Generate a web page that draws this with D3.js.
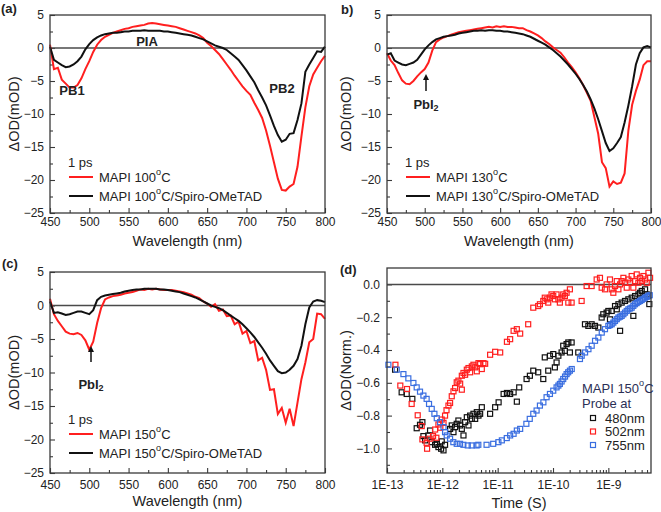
<!DOCTYPE html>
<html><head><meta charset="utf-8">
<script src="https://cdn.jsdelivr.net/npm/d3@7"></script>
<style>body{margin:0;background:#fff} text{font-family:"Liberation Sans",Arial,sans-serif;fill:#222}</style>
</head><body><svg id="c" width="661" height="512"></svg>
<script>
// ---------- data ----------
const wavelengths = d3.range(450, 801, 5);
const a_red = [0.5,-3.2,-3.0,-4.8,-5.4,-6.0,-6.0,-5.6,-4.6,-3.2,
  -2.0,-0.6,0.5,1.2,1.7,2.0,2.3,2.5,2.7,2.9,
  3.0,3.2,3.3,3.4,3.5,3.7,3.8,3.7,3.6,3.5,
  3.4,3.3,3.2,3.0,2.8,2.6,2.4,2.2,1.9,1.5,
  0.8,0.3,-0.3,-0.9,-1.7,-2.5,-3.3,-4.2,-5.0,-5.8,
  -6.5,-7.1,-8.3,-9.4,-10.6,-12.5,-14.8,-17.3,-19.8,-21.5,
  -21.6,-21.0,-20.6,-18.0,-13.4,-9.0,-5.8,-4.0,-3.0,-2.0,
  -1.2];
const a_black = [0.2,-1.8,-2.2,-2.6,-2.9,-2.8,-2.5,-2.0,-1.3,-0.2,
  0.6,1.2,1.6,1.9,2.1,2.2,2.3,2.3,2.4,2.5,
  2.5,2.6,2.6,2.6,2.7,2.6,2.6,2.6,2.6,2.5,
  2.5,2.4,2.3,2.2,2.1,2.0,1.9,1.7,1.5,1.3,
  1.0,0.7,0.4,0.2,0.0,-0.3,-0.8,-1.3,-1.8,-2.6,
  -3.4,-4.3,-5.2,-6.4,-7.5,-8.7,-10.2,-11.8,-13.2,-14.2,
  -13.9,-13.0,-12.9,-10.9,-8.4,-3.6,-2.5,-1.5,-0.5,-0.6,
  0.2];
const b_red = [-0.8,-1.9,-2.6,-3.8,-4.9,-5.4,-5.5,-5.0,-4.3,-3.7,
  -3.2,-2.2,-0.4,0.9,1.3,1.6,1.8,2.0,2.2,2.4,
  2.5,2.6,2.7,2.8,2.9,3.0,3.1,3.2,3.1,3.3,
  3.2,3.3,3.2,3.2,3.1,3.0,3.0,2.7,2.5,2.2,
  1.9,1.5,1.0,0.6,0.1,-0.3,-0.7,-1.4,-2.2,-2.9,
  -3.7,-4.6,-5.6,-6.8,-8.0,-10.5,-13.0,-17.3,-18.2,-21.0,
  -20.2,-20.6,-20.4,-19.0,-12.5,-8.6,-6.5,-4.8,-2.6,-2.0,
  -2.0];
const b_black = [-1.0,-0.8,-1.9,-2.2,-2.5,-2.6,-2.4,-2.2,-1.8,-1.0,
  -0.2,0.4,0.9,1.3,1.5,1.7,1.8,1.9,2.0,2.2,
  2.3,2.4,2.5,2.6,2.6,2.7,2.6,2.7,2.7,2.6,
  2.6,2.5,2.5,2.4,2.3,2.2,2.1,1.9,1.7,1.4,
  1.1,0.8,0.5,0.1,-0.3,-0.8,-1.3,-1.9,-2.5,-3.2,
  -3.9,-4.7,-5.6,-6.6,-7.8,-9.2,-10.8,-12.6,-14.4,-15.6,
  -15.2,-14.4,-13.5,-11.3,-8.7,-5.8,-2.5,-0.8,0.1,0.3,
  0.1];
const c_red = [1.0,-1.3,-2.3,-3.1,-3.9,-4.2,-4.3,-4.1,-4.4,-5.2,
  -6.6,-5.4,-2.6,-0.4,0.9,1.2,1.4,1.5,1.6,1.8,
  1.9,2.0,2.2,2.4,2.3,2.5,2.4,2.5,2.4,2.3,
  2.3,2.3,2.2,2.1,2.0,1.8,1.6,1.3,1.1,0.6,
  0.3,-0.2,0.2,-0.8,-0.6,-1.6,-1.5,-2.8,-2.4,-4.2,
  -3.8,-5.6,-5.3,-8.2,-7.8,-9.6,-12.6,-12.5,-16.2,-15.3,
  -17.5,-15.4,-18.0,-14.5,-11.0,-8.5,-5.5,-5.0,-1.2,-1.3,
  -2.0];
const c_black = [0.6,-1.1,-1.0,-1.2,-1.4,-1.3,-1.1,-0.9,-0.9,-1.1,
  -1.3,-0.7,0.8,1.3,1.5,1.6,1.7,1.8,1.9,2.1,
  2.2,2.3,2.4,2.4,2.5,2.5,2.5,2.5,2.4,2.4,
  2.3,2.2,2.1,2.0,1.8,1.6,1.4,1.2,0.9,0.6,
  0.3,0.0,-0.2,-0.4,-0.7,-1.1,-1.5,-1.9,-2.3,-2.8,
  -3.4,-4.0,-4.7,-5.5,-6.3,-7.2,-8.2,-9.0,-9.8,-10.1,
  -10.0,-9.6,-9.0,-8.0,-6.0,-2.8,-0.3,0.6,0.8,0.7,
  0.5];
const wlTicks = [450,500,550,600,650,700,750,800];
const odTicks = [-25,-20,-15,-10,-5,0,5];

// (d) kinetics: [time (s), normalized dOD]
const k480 = [[1.40e-13,-0.520],[1.84e-13,-0.658],[2.27e-13,-0.668],[2.87e-13,-0.698],[3.44e-13,-0.877],[3.95e-13,-0.856],[4.36e-13,-0.840],[4.55e-13,-0.925],[4.88e-13,-0.951],[5.6e-13,-0.921],[6.0e-13,-0.891],[6.43e-13,-0.962],[7.4e-13,-0.978],[7.93e-13,-0.972],[8.5e-13,-0.992],[9.5e-13,-1.002],[1.05e-12,-1.012],[9.75e-13,-0.957],[1.12e-12,-0.978],[1.38e-12,-0.881],[1.48e-12,-0.860],[1.59e-12,-0.901],[1.70e-12,-0.870],[1.82e-12,-0.850],[1.95e-12,-0.830],[2.1e-12,-0.860],[2.25e-12,-0.881],[2.41e-12,-0.921],[2.58e-12,-0.840],[2.77e-12,-0.810],[2.97e-12,-0.860],[3.18e-12,-0.800],[3.41e-12,-0.820],[3.65e-12,-0.789],[3.92e-12,-0.820],[4.2e-12,-0.779],[4.5e-12,-0.800],[4.82e-12,-0.789],[5.17e-12,-0.749],[7.3e-12,-0.789],[9.0e-12,-0.749],[1.04e-11,-0.719],[1.28e-11,-0.668],[1.47e-11,-0.662],[1.68e-11,-0.668],[1.94e-11,-0.658],[2.22e-11,-0.715],[2.45e-11,-0.628],[3.33e-11,-0.577],[3.82e-11,-0.557],[4.4e-11,-0.526],[5.4e-11,-0.536],[6.67e-11,-0.577],[7.1e-11,-0.445],[8.2e-11,-0.526],[8.8e-11,-0.435],[1.01e-10,-0.425],[1.08e-10,-0.506],[1.16e-10,-0.476],[1.25e-10,-0.435],[1.43e-10,-0.415],[1.53e-10,-0.374],[1.64e-10,-0.405],[1.76e-10,-0.364],[1.89e-10,-0.354],[2.02e-10,-0.415],[2.17e-10,-0.354],[2.86e-10,-0.415],[3.78e-10,-0.243],[4.35e-10,-0.253],[4.99e-10,-0.243],[5.74e-10,-0.253],[6.6e-10,-0.263],[7.57e-10,-0.202],[8.1e-10,-0.182],[9.3e-10,-0.172],[1.0e-9,-0.162],[1.07e-9,-0.213],[1.15e-9,-0.162],[1.32e-9,-0.132],[1.42e-9,-0.152],[1.52e-9,-0.121],[1.63e-9,-0.283],[1.74e-9,-0.111],[2.0e-9,-0.101],[2.3e-9,-0.091],[2.64e-9,-0.081],[2.83e-9,-0.192],[3.04e-9,-0.071],[3.49e-9,-0.061],[3.74e-9,-0.051],[4.01e-9,-0.040],[4.61e-9,-0.030],[4.94e-9,-0.061],[5.5e-9,-0.120]];
const k502 = [[1.42e-13,-0.490],[1.74e-13,-0.617],[2.3e-13,-0.638],[2.79e-13,-0.729],[3.59e-13,-0.798],[4.24e-13,-0.864],[4.36e-13,-0.945],[5.3e-13,-1.002],[5.2e-13,-0.966],[5.9e-13,-0.941],[6.8e-13,-0.925],[7.4e-13,-0.885],[7.8e-13,-0.935],[8.5e-13,-0.854],[9.2e-13,-0.874],[9.75e-13,-0.824],[1.05e-12,-0.844],[1.12e-12,-0.800],[1.19e-12,-0.767],[1.29e-12,-0.739],[1.38e-12,-0.723],[1.48e-12,-0.682],[1.59e-12,-0.652],[1.7e-12,-0.632],[1.82e-12,-0.597],[1.95e-12,-0.587],[2.1e-12,-0.605],[2.25e-12,-0.642],[2.25e-12,-0.557],[2.41e-12,-0.540],[2.58e-12,-0.551],[2.77e-12,-0.520],[2.97e-12,-0.510],[3.18e-12,-0.536],[3.41e-12,-0.500],[3.65e-12,-0.490],[3.92e-12,-0.506],[4.2e-12,-0.530],[4.5e-12,-0.480],[4.82e-12,-0.486],[5.17e-12,-0.516],[5.54e-12,-0.480],[5.94e-12,-0.484],[7.3e-12,-0.429],[9.0e-12,-0.411],[1.11e-11,-0.415],[1.47e-11,-0.350],[1.68e-11,-0.334],[1.94e-11,-0.283],[2.22e-11,-0.273],[2.55e-11,-0.300],[3.56e-11,-0.243],[4.4e-11,-0.142],[5.4e-11,-0.132],[5.8e-11,-0.121],[6.67e-11,-0.101],[7.1e-11,-0.081],[7.7e-11,-0.091],[8.2e-11,-0.111],[8.8e-11,-0.081],[9.4e-11,-0.061],[1.01e-10,-0.071],[1.08e-10,-0.091],[1.16e-10,-0.061],[1.25e-10,-0.091],[1.33e-10,-0.111],[1.43e-10,-0.081],[1.53e-10,-0.061],[1.64e-10,-0.071],[1.76e-10,-0.051],[1.89e-10,-0.111],[2.02e-10,-0.030],[2.17e-10,-0.111],[3.29e-10,-0.101],[4.05e-10,-0.010],[4.99e-10,-0.010],[6.15e-10,0.030],[7.06e-10,0.040],[7.57e-10,-0.020],[8.7e-10,-0.030],[9.3e-10,0.000],[1.07e-9,0.030],[1.15e-9,-0.030],[1.23e-9,-0.051],[1.32e-9,-0.010],[1.42e-9,0.020],[1.52e-9,-0.030],[1.63e-9,0.000],[1.74e-9,0.020],[1.87e-9,0.040],[2.0e-9,0.010],[2.15e-9,-0.020],[2.3e-9,0.030],[2.47e-9,0.010],[2.64e-9,0.051],[2.83e-9,-0.020],[3.04e-9,0.020],[3.26e-9,0.061],[3.49e-9,0.010],[3.74e-9,0.040],[4.01e-9,0.020],[4.3e-9,0.051],[4.61e-9,0.030],[4.94e-9,0.010],[5.3e-9,0.071],[5.68e-9,0.040]];
const k755 = [[1.06e-13,-0.490],[1.5e-13,-0.520],[1.98e-13,-0.547],[2.43e-13,-0.573],[3.0e-13,-0.601],[3.44e-13,-0.628],[3.95e-13,-0.654],[4.55e-13,-0.678],[5.2e-13,-0.698],[5.75e-13,-0.729],[6.43e-13,-0.759],[7.19e-13,-0.789],[7.93e-13,-0.816],[9.1e-13,-0.840],[1.05e-12,-0.870],[1.12e-12,-0.901],[1.2e-12,-0.921],[1.38e-12,-0.941],[1.58e-12,-0.962],[1.82e-12,-0.972],[2.09e-12,-0.972],[2.4e-12,-0.978],[2.88e-12,-0.982],[3.39e-12,-0.982],[4.17e-12,-0.982],[4.47e-12,-0.978],[6.3e-12,-0.978],[8.3e-12,-0.972],[1.03e-11,-0.962],[1.19e-11,-0.951],[1.46e-11,-0.937],[1.68e-11,-0.921],[1.94e-11,-0.911],[2.22e-11,-0.891],[2.55e-11,-0.881],[3.3e-11,-0.850],[3.8e-11,-0.820],[4.4e-11,-0.789],[5.05e-11,-0.769],[5.8e-11,-0.739],[6.7e-11,-0.719],[7.65e-11,-0.688],[8.8e-11,-0.668],[1.01e-10,-0.648],[1.16e-10,-0.628],[1.25e-10,-0.617],[1.33e-10,-0.607],[1.43e-10,-0.592],[1.53e-10,-0.577],[1.65e-10,-0.562],[1.76e-10,-0.547],[1.88e-10,-0.536],[2.02e-10,-0.526],[2.18e-10,-0.516],[3.07e-10,-0.455],[3.3e-10,-0.435],[3.8e-10,-0.415],[4.37e-10,-0.395],[5.0e-10,-0.374],[5.75e-10,-0.344],[6.6e-10,-0.324],[7.6e-10,-0.294],[8.7e-10,-0.273],[1.0e-9,-0.253],[1.07e-9,-0.248],[1.15e-9,-0.243],[1.23e-9,-0.233],[1.32e-9,-0.223],[1.42e-9,-0.212],[1.52e-9,-0.202],[1.63e-9,-0.197],[1.74e-9,-0.192],[1.87e-9,-0.182],[2.0e-9,-0.172],[2.15e-9,-0.162],[2.3e-9,-0.152],[2.47e-9,-0.147],[2.64e-9,-0.142],[2.83e-9,-0.131],[3.03e-9,-0.121],[3.25e-9,-0.114],[3.48e-9,-0.107],[3.74e-9,-0.101],[4.0e-9,-0.095],[4.3e-9,-0.088],[4.6e-9,-0.081],[4.94e-9,-0.076],[5.25e-9,-0.071],[5.6e-9,-0.066]];
const timeTicks = [1e-13,1e-12,1e-11,1e-10,1e-9];
const timeTickLabels = ["1E-13","1E-12","1E-11","1E-10","1E-9"];
const normTicks = [0.0,-0.2,-0.4,-0.6,-0.8,-1.0];

// ---------- drawing ----------
const svg = d3.select("#c");
const RED = "#ff1f1f", BLACK = "#111", BLUE = "#3a6ee0";
const FONT = "'Liberation Sans',Arial,sans-serif";

function degText(sel, x, y, pre, post, size, color) {
  const t = sel.append("text").attr("x", x).attr("y", y).attr("font-size", size)
    .attr("dominant-baseline", "central").style("fill", color || "#222");
  t.append("tspan").text(pre);
  t.append("tspan").attr("dy", -5).attr("font-size", size * 0.7).text("o");
  t.append("tspan").attr("dy", 5).text(post);
  return t;
}

function frame(g, l, r, t, b) {
  g.append("rect").attr("x", l).attr("y", t).attr("width", r - l).attr("height", b - t)
    .attr("fill", "none").attr("stroke", "#3a3a3a").attr("stroke-width", 1.3);
}

function styleAxis(ax) {
  ax.select(".domain").remove();
  ax.selectAll("line").attr("stroke", "#3a3a3a").attr("stroke-width", 1.1);
  ax.selectAll("text").attr("font-size", 12).attr("font-family", FONT).style("fill", "#222");
}

function spectrumPanel(p) {
  const x = d3.scaleLinear().domain([450, 800]).range([p.l, p.r]);
  const y = d3.scaleLinear().domain([-25, 5]).range([p.b, p.t]);
  const g = svg.append("g");
  const xMinor = d3.range(475, 800, 50);
  const yMinor = d3.range(-22.5, 5, 5);
  styleAxis(g.append("g").attr("transform", `translate(0,${p.b})`)
    .call(d3.axisBottom(x).tickValues(xMinor).tickSize(-3).tickFormat("")));
  styleAxis(g.append("g").attr("transform", `translate(${p.l},0)`)
    .call(d3.axisLeft(y).tickValues(yMinor).tickSize(-3).tickFormat("")));
  styleAxis(g.append("g").attr("transform", `translate(0,${p.b})`)
    .call(d3.axisBottom(x).tickValues(wlTicks).tickSize(-5).tickPadding(p.xpad)));
  styleAxis(g.append("g").attr("transform", `translate(${p.l},0)`)
    .call(d3.axisLeft(y).tickValues(odTicks).tickSize(-5).tickPadding(6)));
  // zero line
  g.append("line").attr("x1", x(450)).attr("x2", x(800)).attr("y1", y(0)).attr("y2", y(0))
    .attr("stroke", "#4a4a4a").attr("stroke-width", 1.5);
  const line = d3.line().x((d, i) => x(wavelengths[i])).y(d => y(d));
  g.append("path").datum(p.red).attr("d", line).attr("fill", "none").attr("stroke", RED).attr("stroke-width", 2);
  g.append("path").datum(p.black).attr("d", line).attr("fill", "none").attr("stroke", BLACK).attr("stroke-width", 2);
  frame(g, p.l, p.r, p.t, p.b);
  // titles
  g.append("text").attr("x", (p.l + p.r) / 2).attr("y", p.xt).attr("text-anchor", "middle")
    .attr("dominant-baseline", "central").attr("font-size", 14.5).text("Wavelength (nm)");
  g.append("text").attr("transform", `translate(${p.yt},${(p.t + p.b) / 2}) rotate(-90)`)
    .attr("text-anchor", "middle").attr("dominant-baseline", "central").attr("font-size", 14.5).text("ΔOD(mOD)");
  // legend
  g.append("text").attr("x", p.l + 18).attr("y", p.t + 147).attr("dominant-baseline", "central")
    .attr("font-size", 13).text("1 ps");
  g.append("line").attr("x1", p.l + 19).attr("x2", p.l + 43).attr("y1", p.t + 162).attr("y2", p.t + 162)
    .attr("stroke", RED).attr("stroke-width", 2);
  g.append("line").attr("x1", p.l + 19).attr("x2", p.l + 43).attr("y1", p.t + 181).attr("y2", p.t + 181)
    .attr("stroke", BLACK).attr("stroke-width", 2);
  degText(g, p.l + 49, p.t + 162, "MAPI " + p.temp, "C", 13);
  degText(g, p.l + 49, p.t + 181, "MAPI " + p.temp, "C/Spiro-OMeTAD", 13);
  // panel label
  g.append("text").attr("x", p.lx).attr("y", p.ly).attr("font-size", 13).attr("font-weight", "bold")
    .attr("dominant-baseline", "central").text(p.label);
  return { g, x, y };
}

function bold(g, x, y, s) {
  return g.append("text").attr("x", x).attr("y", y).attr("text-anchor", "middle")
    .attr("dominant-baseline", "central").attr("font-size", 13).attr("font-weight", "bold").text(s);
}
function pbi2(g, x, y1, y2, ty) {
  g.append("line").attr("x1", x).attr("x2", x).attr("y1", y1).attr("y2", y2 + 4)
    .attr("stroke", "#111").attr("stroke-width", 1.5);
  g.append("path").attr("d", `M${x - 3},${y2 + 6} L${x},${y2} L${x + 3},${y2 + 6} Z`).attr("fill", "#111");
  const t = g.append("text").attr("x", x).attr("y", ty).attr("text-anchor", "middle")
    .attr("dominant-baseline", "central").attr("font-size", 13).attr("font-weight", "bold");
  t.append("tspan").text("PbI");
  t.append("tspan").attr("dy", 4).attr("font-size", 9).text("2");
}

const A = spectrumPanel({ l: 50, r: 325, t: 15, b: 213, red: a_red, black: a_black, temp: "100", xpad: 4, xt: 241, yt: 14, label: "(a)", lx: 1, ly: 8 });
bold(A.g, 147, 41, "PIA");
bold(A.g, 72, 90, "PB1");
bold(A.g, 282, 88, "PB2");

const B = spectrumPanel({ l: 387, r: 651, t: 15, b: 213, red: b_red, black: b_black, temp: "130", xpad: 4, xt: 241, yt: 346, label: "b)", lx: 341, ly: 9 });
pbi2(B.g, 426, 91, 74, 104);

const C = spectrumPanel({ l: 50, r: 325, t: 272, b: 473, red: c_red, black: c_black, temp: "150", xpad: 7, xt: 501, yt: 14, label: "(c)", lx: 2, ly: 263 });
pbi2(C.g, 91, 362, 346, 384);

// panel d
(function () {
  const l = 387, r = 651, t = 268, b = 473;
  const x = d3.scaleLog().domain([1e-13, 5.9e-9]).range([l, r]);
  const y = d3.scaleLinear().domain([-1.15, 0.1]).range([b, t]);
  const g = svg.append("g");
  const minor = [];
  for (let e = -13; e <= -9; e++) for (let m = 2; m <= 9; m++) { const v = m * Math.pow(10, e); if (v < 5.9e-9) minor.push(v); }
  styleAxis(g.append("g").attr("transform", `translate(0,${b})`)
    .call(d3.axisBottom(x).tickValues(minor).tickSize(-3).tickFormat("")));
  styleAxis(g.append("g").attr("transform", `translate(0,${b})`)
    .call(d3.axisBottom(x).tickValues(timeTicks).tickSize(-5).tickPadding(7).tickFormat((d, i) => timeTickLabels[i])));
  styleAxis(g.append("g").attr("transform", `translate(${l},0)`)
    .call(d3.axisLeft(y).tickValues(d3.range(-1.1, 0.05, 0.2)).tickSize(-3).tickFormat("")));
  styleAxis(g.append("g").attr("transform", `translate(${l},0)`)
    .call(d3.axisLeft(y).tickValues(normTicks).tickSize(-5).tickPadding(7).tickFormat(d3.format(".1f"))));
  g.append("line").attr("x1", l).attr("x2", r).attr("y1", y(0)).attr("y2", y(0))
    .attr("stroke", "#4a4a4a").attr("stroke-width", 1.5);
  const s = 5;
  const series = [[k480, BLACK], [k502, RED], [k755, BLUE]];
  series.forEach(([data, col]) => {
    g.append("g").selectAll("rect").data(data).join("rect")
      .attr("x", d => x(d[0]) - s / 2).attr("y", d => y(d[1]) - s / 2)
      .attr("width", s).attr("height", s).attr("fill", "none").attr("stroke", col).attr("stroke-width", 1.2);
  });
  frame(g, l, r, t, b);
  g.append("text").attr("x", (l + r) / 2).attr("y", 503).attr("text-anchor", "middle")
    .attr("dominant-baseline", "central").attr("font-size", 14.5).text("Time (S)");
  g.append("text").attr("transform", `translate(346,${(t + b) / 2}) rotate(-90)`)
    .attr("text-anchor", "middle").attr("dominant-baseline", "central").attr("font-size", 14.5).text("ΔOD(Norm.)");
  // legend
  degText(g, 582, 388, "MAPI 150", "C", 13, "#2b2f55");
  g.append("text").attr("x", 582).attr("y", 403).attr("dominant-baseline", "central").attr("font-size", 13)
    .style("fill", "#2b2f55").text("Probe at");
  const labs = ["480nm", "502nm", "755nm"];
  series.forEach(([d, col], i) => {
    const yy = 418 + i * 13.5;
    g.append("rect").attr("x", 593 - s / 2).attr("y", yy - s / 2).attr("width", s).attr("height", s)
      .attr("fill", "none").attr("stroke", col).attr("stroke-width", 1.2);
    g.append("text").attr("x", 605).attr("y", yy).attr("dominant-baseline", "central").attr("font-size", 13)
      .text(labs[i]);
  });
  g.append("text").attr("x", 340).attr("y", 269).attr("font-size", 13).attr("font-weight", "bold")
    .attr("dominant-baseline", "central").text("(d)");
})();
</script></body></html>
